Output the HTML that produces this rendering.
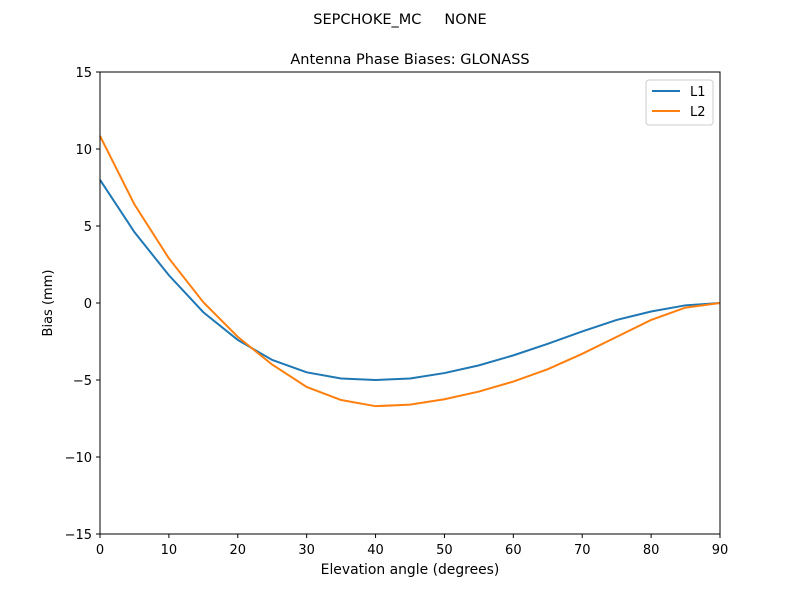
<!DOCTYPE html>
<html><head><meta charset="utf-8"><style>
html,body{margin:0;padding:0;background:#fff}
svg{display:block;font-family:"DejaVu Sans","Liberation Sans",sans-serif}
</style></head><body>
<svg id="chart" width="800" height="600">
<text x="400" y="24" text-anchor="middle" font-size="14.5" style="white-space:pre">SEPCHOKE_MC     NONE</text>
<text x="410" y="64" text-anchor="middle" font-size="14.5">Antenna Phase Biases: GLONASS</text>
<text x="410" y="574" text-anchor="middle" font-size="13.9">Elevation angle (degrees)</text>
<text transform="translate(52,303) rotate(-90)" text-anchor="middle" font-size="13">Bias (mm)</text>
<g id="ticks"></g>
<g id="lines"></g>
<rect x="100" y="72" width="620" height="462" fill="none" stroke="#000" stroke-width="1"/>
<g>
<rect x="646" y="80" width="67" height="45" rx="3" fill="#fff" stroke="#ccc"/>
<line x1="652" y1="91" x2="680" y2="91" stroke="#1f77b4" stroke-width="2"/>
<text x="690" y="96" font-size="13">L1</text>
<line x1="652" y1="111" x2="680" y2="111" stroke="#ff7f0e" stroke-width="2"/>
<text x="690" y="116" font-size="13">L2</text>
</g>
</svg>
<script>
const elevations=[0,5,10,15,20,25,30,35,40,45,50,55,60,65,70,75,80,85,90];
const l1Values=[8.0,4.6,1.8,-0.6,-2.4,-3.7,-4.5,-4.9,-5.0,-4.9,-4.55,-4.05,-3.4,-2.65,-1.85,-1.1,-0.55,-0.15,0];
const l2Values=[10.85,6.4,2.9,0.05,-2.2,-4.0,-5.45,-6.3,-6.7,-6.6,-6.25,-5.75,-5.1,-4.3,-3.3,-2.2,-1.1,-0.3,0];
const xTicks=[0,10,20,30,40,50,60,70,80,90];
const yTicks=[-15,-10,-5,0,5,10,15];
const NS="http://www.w3.org/2000/svg";
function xs(v){return 100+(v-0)/90*620;}
function ys(v){return 534-(v+15)/30*462;}
const tg=document.getElementById('ticks');
xTicks.forEach(t=>{
 const l=document.createElementNS(NS,'line');
 l.setAttribute('x1',xs(t));l.setAttribute('x2',xs(t));l.setAttribute('y1',534);l.setAttribute('y2',538);l.setAttribute('stroke','#000');
 
 
 tg.appendChild(l);
 const tx=document.createElementNS(NS,'text');
 tx.setAttribute('x',xs(t));tx.setAttribute('y',554);tx.setAttribute('text-anchor','middle');tx.setAttribute('font-size','13');
 tx.textContent=t;
 
 
 tg.appendChild(tx);
});
yTicks.forEach(t=>{
 const l=document.createElementNS(NS,'line');
 l.setAttribute('x1',96);l.setAttribute('x2',100);l.setAttribute('y1',ys(t));l.setAttribute('y2',ys(t));l.setAttribute('stroke','#000');
 
 
 tg.appendChild(l);
 const tx=document.createElementNS(NS,'text');
 tx.setAttribute('x',92);tx.setAttribute('y',ys(t)+5);tx.setAttribute('text-anchor','end');tx.setAttribute('font-size','13');
 tx.textContent=(t<0?'\u2212'+(-t):t);
 
 
 tg.appendChild(tx);
});
const lg=document.getElementById('lines');
function drawSeries(vals,color,name){
 const p=document.createElementNS(NS,'polyline');
 p.setAttribute('points',elevations.map((e,i)=>xs(e)+','+ys(vals[i])).join(' '));
 p.setAttribute('fill','none');p.setAttribute('stroke',color);p.setAttribute('stroke-width','2');
 
 
 lg.appendChild(p);
}
drawSeries(l1Values,'#1f77b4','series-l1');
drawSeries(l2Values,'#ff7f0e','series-l2');
</script>
</body></html>
